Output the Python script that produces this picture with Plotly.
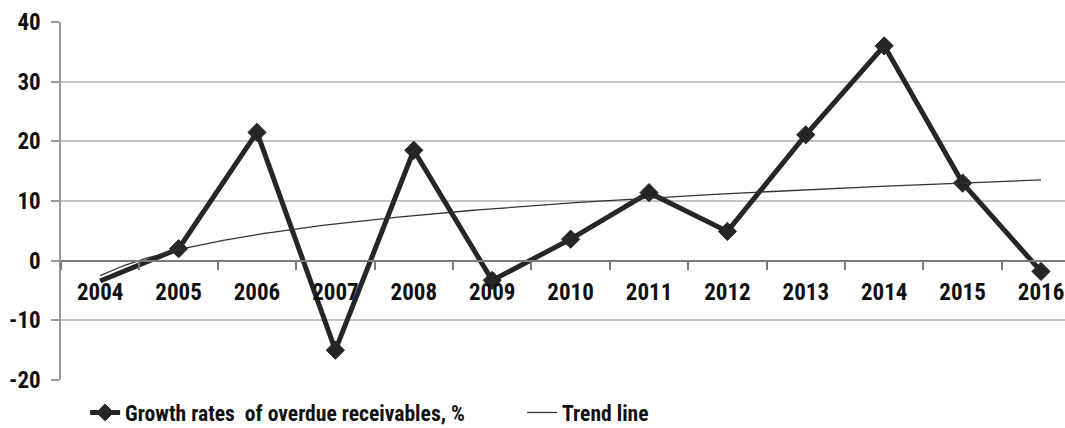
import numpy as np
import plotly.graph_objects as go

# Annual growth rates of overdue receivables, %
years = ["2004", "2005", "2006", "2007", "2008", "2009", "2010",
         "2011", "2012", "2013", "2014", "2015", "2016"]
growth = [-3.4, 2.0, 21.5, -15.0, 18.5, -3.3, 3.6, 11.4, 4.9, 21.1, 36.0, 13.0, -1.8]

y_ticks = [-20, -10, 0, 10, 20, 30, 40]
y_tick_text = ["-20", "-10", "0", "10", "20", "30", "40"]

series_name = "Growth rates  of overdue receivables, %"
trend_name = "Trend line"

FONT = "Roboto Condensed, Liberation Sans Narrow, sans-serif"
DARK = "#262626"

pos = np.arange(len(years))

# Logarithmic trend fitted to the yearly values: y = a + b*ln(t), t = 1..n
t = pos + 1.0
b, a = np.polyfit(np.log(t), np.array(growth), 1)
t_fine = np.linspace(t[0], t[-1], 200)
trend_y = a + b * np.log(t_fine)
trend_x = t_fine - 1.0

# first year is drawn without a marker
marker_sizes = [0] + [14] * (len(years) - 1)

fig = go.Figure()
fig.add_trace(go.Scatter(
    x=pos, y=growth, name=series_name, mode="lines+markers",
    line=dict(color=DARK, width=5),
    marker=dict(symbol="diamond", size=marker_sizes, color=DARK, opacity=1,
                line=dict(color=DARK, width=1)),
    cliponaxis=False,
))
fig.add_trace(go.Scatter(
    x=trend_x, y=trend_y, name=trend_name, mode="lines",
    line=dict(color="#333333", width=1.3),
))

fig.update_layout(
    width=1065, height=428,
    margin=dict(l=61, r=0, t=22, b=48, autoexpand=False),
    paper_bgcolor="white", plot_bgcolor="white",
    font=dict(family=FONT, size=23, color="#111111", weight="bold"),
    showlegend=True,
    legend=dict(
        orientation="h", x=0.024, xanchor="left", y=-0.092, yanchor="middle",
        font=dict(size=21.6, family=FONT, weight="bold", color="#111111"),
        itemwidth=30, entrywidth=392, entrywidthmode="pixels",
        bgcolor="rgba(0,0,0,0)",
    ),
    xaxis=dict(
        range=[-0.5, 12.306], tickmode="array", tickvals=pos, ticktext=years,
        ticks="", showgrid=False, zeroline=False,
        showline=True, linecolor="#7a7a7a", linewidth=2,
        anchor="free", position=1 / 3,
        minor=dict(tickmode="array", tickvals=list(pos - 0.5) + [12.5],
                   ticks="outside", ticklen=8, tickcolor="#7a7a7a",
                   tickwidth=1.5, showgrid=False),
        ticklabelstandoff=11, ticklabeloverflow="allow",
        tickfont=dict(size=23),
    ),
    yaxis=dict(
        range=[-20, 40], tickmode="array", tickvals=y_ticks, ticktext=y_tick_text,
        showgrid=True, gridcolor="#c4c4c4", gridwidth=1.5,
        zeroline=False, showline=True, linecolor="#9a9a9a", linewidth=1.5,
        ticks="outside", ticklen=8, tickcolor="#9a9a9a", tickwidth=1.5,
        ticklabelstandoff=6,
        tickfont=dict(size=23),
    ),
)

fig.write_html("out.html")
